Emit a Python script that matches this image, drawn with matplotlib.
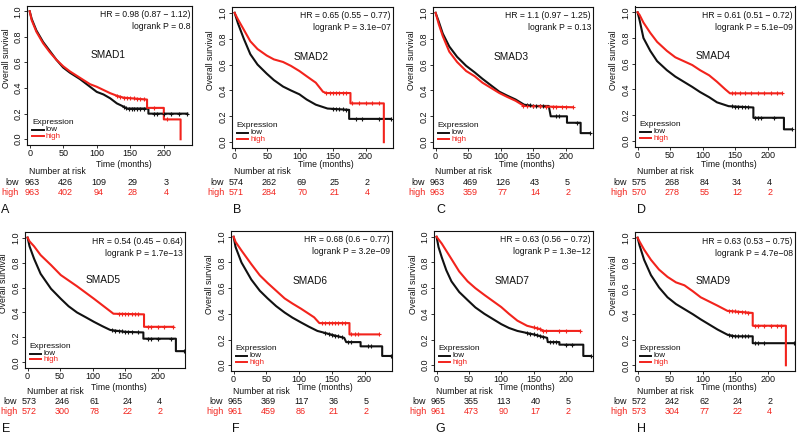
import numpy as np
import matplotlib
matplotlib.use("Agg")
import matplotlib.pyplot as plt
from matplotlib import transforms

plt.rcParams['font.family'] = ['Liberation Sans', 'DejaVu Sans']

RED = '#f2231c'
BLK = '#111111'

# ---------------- data ----------------
risk_times = [0, 50, 100, 150, 200]
xticks = [0, 50, 100, 150, 200]
yticks = [0.0, 0.2, 0.4, 0.6, 0.8, 1.0]
ytick_labels = ['0.0', '0.2', '0.4', '0.6', '0.8', '1.0']

# SMAD1
smad1_low_t = [0, 3, 10, 20, 30, 40, 50, 60, 75, 90, 100, 110, 120, 130, 140, 145, 177, 177, 235]
smad1_low_s = [1.0, 0.94, 0.85, 0.76, 0.69, 0.62, 0.56, 0.52, 0.47, 0.41, 0.37, 0.35, 0.32, 0.28, 0.255, 0.24, 0.24, 0.20, 0.20]
smad1_high_t = [0, 3, 10, 20, 30, 40, 50, 60, 75, 90, 100, 110, 120, 130, 140, 175, 175, 200, 200, 225, 225]
smad1_high_s = [1.0, 0.93, 0.84, 0.75, 0.68, 0.62, 0.57, 0.53, 0.48, 0.43, 0.41, 0.385, 0.36, 0.34, 0.325, 0.31, 0.245, 0.245, 0.155, 0.155, 0.0]
smad1_low_cens = [140, 144, 148, 152, 156, 160, 165, 170, 185, 190, 200, 210, 222, 235]
smad1_high_cens = [130, 135, 140, 145, 150, 155, 160, 165, 170, 185, 205]
smad1_risk_low = [963, 426, 109, 29, 3]
smad1_risk_high = [963, 402, 94, 28, 4]
smad1_hr = "HR = 0.98 (0.87 \u2212 1.12)"
smad1_p = "logrank P = 0.8"

# SMAD2
smad2_low_t = [0, 5, 14, 24, 35, 49, 60, 74, 86, 99, 110, 124, 142, 175, 175, 239]
smad2_low_s = [1.0, 0.92, 0.80, 0.68, 0.60, 0.53, 0.48, 0.43, 0.40, 0.37, 0.33, 0.29, 0.26, 0.25, 0.18, 0.18]
smad2_high_t = [0, 5, 14, 24, 35, 49, 60, 74, 86, 99, 110, 124, 135, 140, 177, 177, 228, 228]
smad2_high_s = [1.0, 0.95, 0.87, 0.78, 0.72, 0.67, 0.64, 0.62, 0.59, 0.55, 0.51, 0.46, 0.39, 0.38, 0.38, 0.30, 0.30, 0.0]
smad2_low_cens = [150, 155, 160, 165, 170, 185, 195, 220, 239]
smad2_high_cens = [140, 145, 150, 155, 160, 165, 170, 180, 190, 200, 210, 220]
smad2_risk_low = [574, 262, 69, 25, 2]
smad2_risk_high = [571, 284, 70, 21, 4]
smad2_hr = "HR = 0.65 (0.55 \u2212 0.77)"
smad2_p = "logrank P = 3.1e\u221207"

# SMAD3
smad3_low_t = [0, 5, 11, 21, 33, 47, 60, 72, 85, 98, 110, 123, 136, 150, 174, 177, 202, 202, 223, 223, 237]
smad3_low_s = [1.0, 0.93, 0.84, 0.74, 0.66, 0.59, 0.54, 0.49, 0.44, 0.39, 0.36, 0.33, 0.29, 0.28, 0.28, 0.20, 0.20, 0.15, 0.15, 0.07, 0.07]
smad3_high_t = [0, 5, 11, 21, 33, 47, 60, 72, 85, 98, 110, 123, 136, 211]
smad3_high_s = [1.0, 0.91, 0.82, 0.70, 0.62, 0.55, 0.51, 0.46, 0.42, 0.38, 0.35, 0.32, 0.28, 0.27]
smad3_low_cens = [140, 145, 150, 155, 160, 165, 185, 190, 218, 237]
smad3_high_cens = [135, 140, 150, 160, 170, 180, 185, 195, 200, 211]
smad3_risk_low = [963, 469, 126, 43, 5]
smad3_risk_high = [963, 359, 77, 14, 2]
smad3_hr = "HR = 1.1 (0.97 \u2212 1.25)"
smad3_p = "logrank P = 0.13"

# SMAD4
smad4_low_t = [0, 3, 9, 19.5, 30, 45, 58, 71, 84, 96, 110, 122, 140, 178, 178, 225, 225, 237]
smad4_low_s = [1.0, 0.94, 0.80, 0.70, 0.62, 0.55, 0.50, 0.46, 0.42, 0.38, 0.34, 0.30, 0.27, 0.26, 0.18, 0.18, 0.09, 0.09]
smad4_high_t = [0, 3, 9, 19.5, 30, 45, 58, 71, 84, 96, 110, 122, 135, 142, 222]
smad4_high_s = [1.0, 0.98, 0.92, 0.84, 0.77, 0.70, 0.65, 0.62, 0.59, 0.55, 0.51, 0.46, 0.40, 0.37, 0.37]
smad4_low_cens = [145, 150, 155, 160, 165, 170, 180, 185, 190, 210, 237]
smad4_high_cens = [145, 150, 158, 165, 175, 185, 195, 205, 215, 222]
smad4_risk_low = [575, 268, 84, 34, 4]
smad4_risk_high = [570, 278, 55, 12, 2]
smad4_hr = "HR = 0.61 (0.51 \u2212 0.72)"
smad4_p = "logrank P = 5.1e\u221209"

# SMAD5
smad5_low_t = [0, 3, 10, 20, 36, 51, 63, 76, 90, 102, 115, 127, 150, 178, 178, 228, 228, 240]
smad5_low_s = [1.0, 0.93, 0.83, 0.71, 0.59, 0.51, 0.45, 0.40, 0.36, 0.325, 0.29, 0.26, 0.245, 0.24, 0.19, 0.19, 0.09, 0.09]
smad5_high_t = [0, 3, 10, 20, 36, 51, 76, 102, 122, 132, 179, 179, 224]
smad5_high_s = [1.0, 0.97, 0.93, 0.86, 0.78, 0.70, 0.61, 0.51, 0.43, 0.39, 0.385, 0.285, 0.285]
smad5_low_cens = [130, 135, 140, 145, 150, 155, 160, 170, 185, 190, 200, 220, 240]
smad5_high_cens = [140, 145, 150, 155, 160, 165, 170, 185, 190, 200, 210, 224]
smad5_risk_low = [573, 246, 61, 24, 4]
smad5_risk_high = [572, 300, 78, 22, 2]
smad5_hr = "HR = 0.54 (0.45 \u2212 0.64)"
smad5_p = "logrank P = 1.7e\u221213"

# SMAD6
smad6_low_t = [0, 3, 12, 27, 40, 52, 65, 78, 90, 103, 115, 128, 154, 169, 172, 194, 194, 227, 227, 240]
smad6_low_s = [1.0, 0.92, 0.80, 0.667, 0.58, 0.52, 0.46, 0.41, 0.37, 0.333, 0.30, 0.267, 0.232, 0.213, 0.18, 0.18, 0.147, 0.147, 0.072, 0.072]
smad6_high_t = [0, 3, 12, 27, 40, 52, 65, 78, 90, 103, 115, 123, 131, 177, 177, 222]
smad6_high_s = [1.0, 0.96, 0.893, 0.787, 0.70, 0.64, 0.58, 0.52, 0.48, 0.44, 0.40, 0.373, 0.328, 0.328, 0.24, 0.24]
smad6_low_cens = [140, 145, 150, 155, 160, 165, 175, 180, 205, 210, 240]
smad6_high_cens = [135, 140, 145, 150, 155, 160, 165, 170, 180, 185, 190, 222]
smad6_risk_low = [965, 369, 117, 36, 5]
smad6_risk_high = [961, 459, 86, 21, 2]
smad6_hr = "HR = 0.68 (0.6 \u2212 0.77)"
smad6_p = "logrank P = 3.2e\u221209"

# SMAD7
smad7_low_t = [0, 3, 8, 15, 23, 35, 48, 60, 74, 87, 100, 112, 125, 150, 171, 172, 190, 190, 227, 227, 239]
smad7_low_s = [1.0, 0.92, 0.84, 0.74, 0.653, 0.57, 0.507, 0.45, 0.40, 0.36, 0.32, 0.29, 0.267, 0.24, 0.213, 0.18, 0.18, 0.16, 0.16, 0.072, 0.072]
smad7_high_t = [0, 3, 8, 23, 35, 48, 60, 74, 87, 100, 112, 125, 140, 161, 165, 222]
smad7_high_s = [1.0, 0.98, 0.947, 0.827, 0.73, 0.653, 0.60, 0.547, 0.50, 0.453, 0.40, 0.347, 0.307, 0.28, 0.267, 0.267]
smad7_low_cens = [140, 145, 150, 155, 160, 165, 175, 180, 185, 200, 210, 239]
smad7_high_cens = [150, 155, 160, 165, 170, 190, 200, 222]
smad7_risk_low = [965, 355, 113, 40, 5]
smad7_risk_high = [961, 473, 90, 17, 2]
smad7_hr = "HR = 0.63 (0.56 \u2212 0.72)"
smad7_p = "logrank P = 1.3e\u221212"

# SMAD9
smad9_low_t = [0, 3, 10, 20.5, 33, 46, 59, 72, 85, 97, 110, 123, 138, 150, 177, 177, 240]
smad9_low_s = [1.0, 0.94, 0.827, 0.707, 0.61, 0.533, 0.48, 0.44, 0.40, 0.36, 0.32, 0.28, 0.24, 0.227, 0.227, 0.173, 0.173]
smad9_high_t = [0, 3, 10, 20.5, 33, 46, 59, 72, 85, 97, 110, 123, 138, 177, 177, 228, 228]
smad9_high_s = [1.0, 0.97, 0.907, 0.827, 0.75, 0.693, 0.65, 0.627, 0.58, 0.533, 0.50, 0.467, 0.427, 0.41, 0.31, 0.31, 0.0]
smad9_low_cens = [140, 145, 150, 155, 160, 165, 170, 180, 185, 195, 240]
smad9_high_cens = [140, 145, 150, 155, 160, 165, 170, 180, 185, 195, 205, 215, 220]
smad9_risk_low = [572, 242, 62, 24, 2]
smad9_risk_high = [573, 304, 77, 22, 4]
smad9_hr = "HR = 0.63 (0.53 \u2212 0.75)"
smad9_p = "logrank P = 4.7e\u221208"

genes = ['SMAD1', 'SMAD2', 'SMAD3', 'SMAD4', 'SMAD5', 'SMAD6', 'SMAD7', 'SMAD9']
letters = ['A', 'B', 'C', 'D', 'E', 'F', 'G', 'H']

panel_data = [
    (smad1_low_t, smad1_low_s, smad1_high_t, smad1_high_s, smad1_low_cens, smad1_high_cens, smad1_risk_low, smad1_risk_high, smad1_hr, smad1_p),
    (smad2_low_t, smad2_low_s, smad2_high_t, smad2_high_s, smad2_low_cens, smad2_high_cens, smad2_risk_low, smad2_risk_high, smad2_hr, smad2_p),
    (smad3_low_t, smad3_low_s, smad3_high_t, smad3_high_s, smad3_low_cens, smad3_high_cens, smad3_risk_low, smad3_risk_high, smad3_hr, smad3_p),
    (smad4_low_t, smad4_low_s, smad4_high_t, smad4_high_s, smad4_low_cens, smad4_high_cens, smad4_risk_low, smad4_risk_high, smad4_hr, smad4_p),
    (smad5_low_t, smad5_low_s, smad5_high_t, smad5_high_s, smad5_low_cens, smad5_high_cens, smad5_risk_low, smad5_risk_high, smad5_hr, smad5_p),
    (smad6_low_t, smad6_low_s, smad6_high_t, smad6_high_s, smad6_low_cens, smad6_high_cens, smad6_risk_low, smad6_risk_high, smad6_hr, smad6_p),
    (smad7_low_t, smad7_low_s, smad7_high_t, smad7_high_s, smad7_low_cens, smad7_high_cens, smad7_risk_low, smad7_risk_high, smad7_hr, smad7_p),
    (smad9_low_t, smad9_low_s, smad9_high_t, smad9_high_s, smad9_low_cens, smad9_high_cens, smad9_risk_low, smad9_risk_high, smad9_hr, smad9_p),
]

# ---------------- layout (pixels) ----------------
W, H = 800, 438
boxes = [(27, 5.5, 192, 145), (232, 7, 393, 148), (433, 7, 593, 148), (635, 6.5, 795, 146.7),
         (25, 232, 185, 368), (231, 231, 392, 371), (434, 231, 593, 371), (635, 232, 795, 371)]
row_y = [dict(time=164.5, nar=172.0, low=182.7, high=192.2, letter=210.0),
         dict(time=387.5, nar=391.5, low=401.5, high=411.0, letter=429.0)]
letter_x = [1, 233, 436, 637, 2, 232, 435, 637]

fig = plt.figure(figsize=(W / 100, H / 100), dpi=100)
fig.patch.set_facecolor('white')

def fy(y):
    return 1 - y / H

for i, (gene, d) in enumerate(zip(genes, panel_data)):
    lt, ls, ht, hs, lc, hc, rl, rh, hr, pv = d
    l, t, r, b = boxes[i]
    ax = fig.add_axes([l / W, 1 - b / H, (r - l) / W, (b - t) / H])
    ax.plot(lt, ls, color=BLK, lw=1.5)
    ax.plot(ht, hs, color=RED, lw=1.5)
    ax.plot(lc, np.interp(lc, lt, ls), ls='none', marker='+', ms=3.5, mew=0.8, color=BLK)
    ax.plot(hc, np.interp(hc, ht, hs), ls='none', marker='+', ms=3.5, mew=0.8, color=RED)
    ax.set_xlim(-4, 242)
    ax.set_ylim(-0.045, 1.045)
    ax.set_xticks(xticks)
    ax.set_yticks(yticks)
    ax.set_yticklabels(ytick_labels)
    ax.tick_params(axis='both', length=2.3, width=0.6, labelsize=6.5, colors=BLK)
    ax.tick_params(axis='x', pad=0.8)
    ax.tick_params(axis='y', pad=1.2)
    for lab in ax.get_yticklabels():
        lab.set_rotation(90)
        lab.set_va('center')
    for sp in ax.spines.values():
        sp.set_linewidth(0.8)
        sp.set_color(BLK)
    h = b - t
    w = r - l
    ax.text(1 - 2 / w, 1 - 9 / h, hr, transform=ax.transAxes, ha='right', va='center', fontsize=6.2, color=BLK)
    ax.text(1 - 2 / w, 1 - 21 / h, pv, transform=ax.transAxes, ha='right', va='center', fontsize=6.2, color=BLK)
    ax.text(0.49, 0.645, gene, transform=ax.transAxes, ha='center', va='center', fontsize=7.3, color=BLK)
    ax.text(-21 / w, 0.62, 'Overall survival', transform=ax.transAxes, rotation=90,
            ha='center', va='center', fontsize=6.2, color=BLK)
    # legend
    ax.text(0.03, 0.16, 'Expression', transform=ax.transAxes, ha='left', va='center', fontsize=6.0, color=BLK)
    ax.plot([0.03, 0.10], [0.106, 0.106], transform=ax.transAxes, color=BLK, lw=1.4)
    ax.plot([0.03, 0.10], [0.064, 0.064], transform=ax.transAxes, color=RED, lw=1.4)
    ax.text(0.115, 0.11, 'low', transform=ax.transAxes, ha='left', va='center', fontsize=5.8, color=BLK)
    ax.text(0.115, 0.06, 'high', transform=ax.transAxes, ha='left', va='center', fontsize=5.8, color=RED)

    ry = row_y[i // 4]
    tr = transforms.blended_transform_factory(ax.transData, fig.transFigure)
    tra = transforms.blended_transform_factory(ax.transAxes, fig.transFigure)
    ax.text(0.585, fy(ry['time']), 'Time (months)', transform=tra, ha='center', va='center',
            fontsize=6.2, color=BLK, clip_on=False)
    ax.text(-1, fy(ry['nar']), 'Number at risk', transform=tr, ha='left', va='center',
            fontsize=6.2, color=BLK, clip_on=False)
    ax.text(-16, fy(ry['low']), 'low', transform=tr, ha='right', va='center', fontsize=6.5, color=BLK, clip_on=False)
    ax.text(-16, fy(ry['high']), 'high', transform=tr, ha='right', va='center', fontsize=6.5, color=RED, clip_on=False)
    for tt, n1, n2 in zip(risk_times, rl, rh):
        ax.text(tt + 3, fy(ry['low']), str(n1), transform=tr, ha='center', va='center',
                fontsize=6.5, color=BLK, clip_on=False)
        ax.text(tt + 3, fy(ry['high']), str(n2), transform=tr, ha='center', va='center',
                fontsize=6.5, color=RED, clip_on=False)
    fig.text(letter_x[i] / W, fy(ry['letter']), letters[i], ha='left', va='center', fontsize=9, color=BLK)

fig.savefig('out.png', dpi=100, facecolor='white')
